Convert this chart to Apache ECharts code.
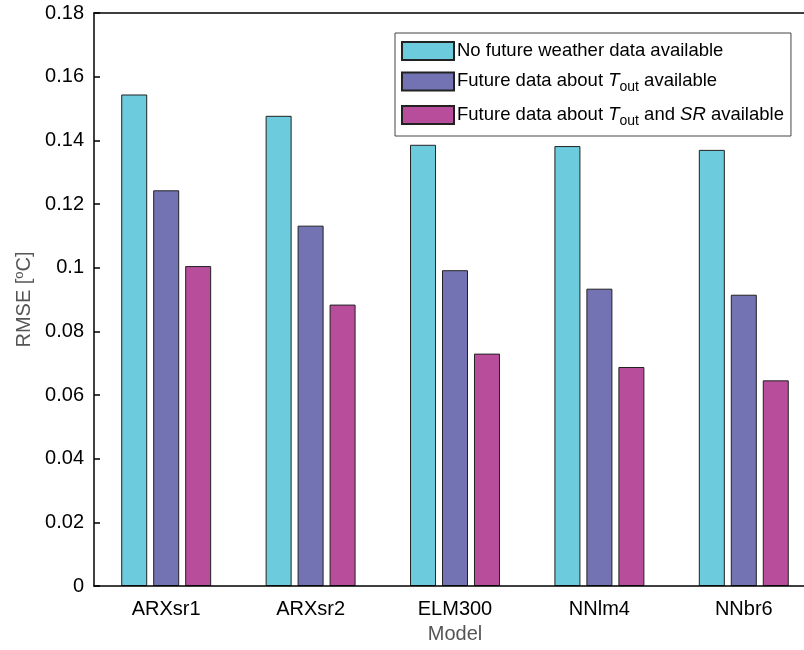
<!DOCTYPE html>
<html>
<head>
<meta charset="utf-8">
<script src="https://cdn.jsdelivr.net/npm/echarts@6/dist/echarts.min.js"></script>
<style>html,body{margin:0;padding:0;background:#fff}#c{width:804px;height:650px}</style>
</head>
<body>
<div id="c"></div>
<script>
const categories = ['ARXsr1', 'ARXsr2', 'ELM300', 'NNlm4', 'NNbr6'];
const noWeather = [0.1544, 0.1477, 0.1386, 0.1382, 0.1370];
const toutOnly = [0.1243, 0.1132, 0.0992, 0.0934, 0.0915];
const toutSR = [0.1005, 0.0884, 0.0730, 0.0688, 0.0646];
const seriesNames = ['No future weather data available', 'Future data about T_out available', 'Future data about T_out and SR available'];
const colors = ['#6ccbdc', '#7373b4', '#b84d9b'];

const FONT = 'Liberation Sans, Arial, Helvetica, sans-serif';
const chart = echarts.init(document.getElementById('c'));
const legendRich = {
  n: {fontSize: 18.5, fontFamily: FONT, color: '#000', lineHeight: 20, verticalAlign: 'top'},
  i: {fontSize: 18.5, fontFamily: FONT, color: '#000', fontStyle: 'italic', lineHeight: 20, verticalAlign: 'top'},
  s: {fontSize: 14, fontFamily: FONT, color: '#000', lineHeight: 11, verticalAlign: 'top', padding: [9, 0, 0, 0]}
};
function legendFmt(name) {
  if (name === seriesNames[0]) return '{n|No future weather data available}';
  if (name === seriesNames[1]) return '{n|Future data about }{i|T}{s|out}{n| available}';
  return '{n|Future data about }{i|T}{s|out}{n| and }{i|SR}{n| available}';
}
const dataSets = [noWeather, toutOnly, toutSR];
chart.setOption({
  animation: false,
  textStyle: {fontFamily: FONT},
  grid: {left: 94, top: 13, width: 722, height: 573, containLabel: false, outerBoundsMode: 'none'},
  legend: {
    orient: 'vertical', left: 395, top: 33,
    padding: [8, 7, 8, 6],
    itemWidth: 52, itemHeight: 18, itemGap: 10.5,
    borderColor: '#444', borderWidth: 1, backgroundColor: '#fff',
    icon: 'rect',
    data: seriesNames,
    formatter: legendFmt,
    textStyle: {rich: legendRich, padding: [0, 0, 0, -2]}
  },
  xAxis: [{
    type: 'category', data: categories, position: 'bottom', z: 5,
    axisLine: {lineStyle: {color: '#000', width: 1.5}},
    axisTick: {inside: true, alignWithLabel: true, length: 6, lineStyle: {color: '#000', width: 1.5}},
    axisLabel: {color: '#000', fontSize: 20, margin: 13, fontFamily: FONT},
    name: 'Model', nameLocation: 'middle', nameGap: 38,
    nameTextStyle: {color: '#555', fontSize: 20, fontFamily: FONT}
  }, {
    type: 'category', data: categories, position: 'top', z: 5,
    axisLine: {lineStyle: {color: '#000', width: 1.5}},
    axisTick: {inside: true, alignWithLabel: true, length: 6, lineStyle: {color: '#000', width: 1.5}},
    axisLabel: {show: false}
  }],
  yAxis: {
    type: 'value', min: 0, max: 0.18, interval: 0.02, z: 5,
    axisLine: {show: true, lineStyle: {color: '#000', width: 1.5}},
    axisTick: {show: true, inside: true, length: 6, lineStyle: {color: '#000', width: 1.5}},
    splitLine: {show: false},
    axisLabel: {color: '#000', fontSize: 20, margin: 10, fontFamily: FONT,
      formatter: v => String(parseFloat(v.toFixed(2)))},
    name: 'RMSE [{sup|o}C]', nameLocation: 'middle', nameGap: 56, nameRotate: 90,
    nameTextStyle: {color: '#555', fontSize: 20, fontFamily: FONT,
      rich: {sup: {fontSize: 13, color: '#555', fontFamily: FONT, verticalAlign: 'top', padding: [0, 0, 9, 0]}}}
  },
  series: dataSets.map((d, k) => ({
    name: seriesNames[k], type: 'bar', data: d,
    barWidth: 26, barGap: '23%',
    itemStyle: {color: colors[k], borderColor: '#222', borderWidth: 1}
  }))
});
</script>
</body>
</html>
